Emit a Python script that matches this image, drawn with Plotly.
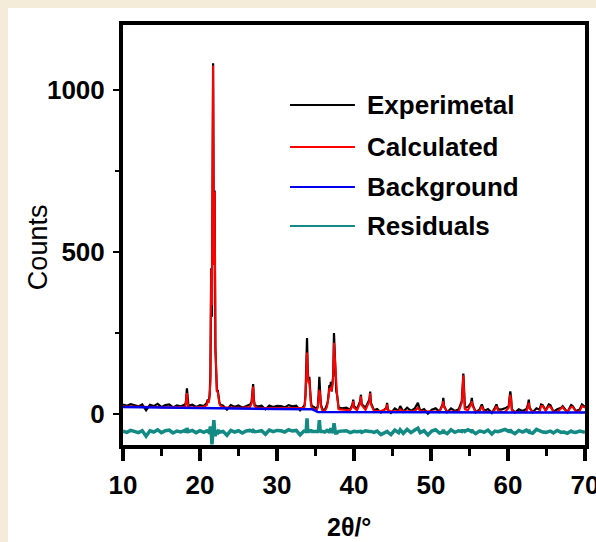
import plotly.graph_objects as go

# Powder XRD Rietveld fit: observed pattern, calculated profile, background, residuals
two_theta = [
    10.0, 10.5, 11.0, 11.5, 12.0, 12.5, 13.0, 13.5, 14.0, 14.5, 15.0, 15.5, 16.0, 16.5, 17.0, 17.5, 18.0,
    18.1, 18.2, 18.3, 18.4, 18.5,
    19.0, 19.5, 20.0, 20.5,
    20.9, 21.0, 21.15, 21.25, 21.35, 21.45, 21.55, 21.7, 21.8, 21.9, 22.0, 22.1, 22.2, 22.3, 22.4, 22.5, 22.6, 22.8,
    23.0, 23.5, 24.0, 24.5, 25.0, 25.5, 26.0, 26.5,
    26.7, 26.8, 26.9, 27.0, 27.1,
    27.5, 28.0, 28.5, 29.0, 29.5, 30.0, 30.5, 31.0, 31.5, 32.0, 32.5, 33.0, 33.5,
    33.6, 33.7, 33.8, 33.9, 34.0, 34.1, 34.2, 34.3, 34.4, 34.5,
    34.8, 35.1,
    35.3, 35.4, 35.5, 35.6, 35.7, 35.9,
    36.2, 36.5,
    36.6, 36.7, 36.8, 36.9, 37.0, 37.1, 37.2, 37.3, 37.4, 37.5, 37.6, 37.7, 37.8, 38.0,
    38.5, 39.0, 39.5,
    39.8, 39.9, 40.0,
    40.4,
    40.8, 40.9, 41.0,
    41.5,
    42.0, 42.1, 42.2,
    42.6, 43.0, 43.5,
    44.2, 44.3, 44.4,
    44.8, 45.3, 45.8,
    46.0, 46.4, 46.9, 47.4, 47.9,
    48.3, 48.6, 49.1, 49.6, 50.1, 50.6, 51.1,
    51.5, 51.6, 51.7,
    52.1, 52.6, 53.1, 53.6,
    54.0, 54.1, 54.2, 54.3, 54.4,
    54.8,
    55.2, 55.3, 55.4,
    55.8, 56.3, 56.6, 56.9,
    57.4, 57.9, 58.3, 58.5, 58.7,
    59.1, 59.6,
    60.1, 60.2, 60.3, 60.4, 60.5,
    60.9, 61.4, 61.9, 62.4,
    62.6, 62.7, 62.8,
    63.2, 63.7, 64.1,
    64.3, 64.5, 64.9, 65.3, 65.5, 65.9, 66.4,
    66.9, 67.1, 67.3, 67.7,
    68.2, 68.4, 68.8,
    69.3, 69.6, 70.0,
]

exp_counts = [
    30, 26, 31, 27, 24, 30, 12, 29, 25, 32, 22, 28, 30, 21, 27, 24, 30,
    28, 45, 80, 40, 26,
    29, 22, 28, 25,
    35, 45, 40, 60, 120, 450, 300, 1082, 500, 690, 200, 90, 70, 75, 50, 40, 30, 28,
    26, 14, 28, 23, 27, 20, 26, 30,
    38, 60, 93, 45, 28,
    24, 26, 15, 27, 22, 26, 25, 21, 28, 24, 26, 12, 25,
    30, 60, 130, 235, 130, 100, 115, 60, 40, 25,
    22, 16,
    25, 60, 115, 70, 30, 15,
    12, 30,
    40, 60, 90, 80, 100, 70, 95, 120, 250, 180, 150, 70, 60, 20,
    18, 20, 14,
    30, 45, 25,
    16,
    40, 60, 30,
    20,
    45, 70, 35,
    12, 16, 5,
    20, 35, 14,
    4, 18, 10,
    25, 8, 20, 10, 18,
    35, 10, 16, 2, 14, 18, 8,
    30, 50, 25,
    6, 18, 10, 15,
    40, 80, 125, 75, 20,
    22,
    35, 50, 30,
    6, 14, 30, 10,
    16, 4, 20, 30, 16,
    14, 18,
    25, 50, 70, 50, 15,
    5, 15, 10, 16,
    30, 45, 20,
    6, 18, 14,
    30, 28, 12, 30, 28, 8, 15,
    20, 25, 18, 6,
    28, 25, 10,
    14, 30, 22,
]

calc_counts = [
    24, 24, 23, 23, 23, 23, 22, 22, 22, 22, 21, 21, 21, 21, 21, 21, 22,
    23, 40, 65, 35, 22,
    21, 21, 21, 23,
    28, 40, 38, 55, 100, 445, 335, 1075, 460, 685, 210, 85, 68, 70, 48, 35, 27, 24,
    21, 21, 20, 20, 20, 20, 20, 22,
    33, 55, 85, 40, 24,
    19, 19, 19, 18, 18, 18, 18, 18, 18, 18, 18, 18, 19,
    25, 55, 120, 190, 125, 95, 105, 55, 30, 20,
    17, 12,
    20, 50, 75, 60, 25, 10,
    9, 22,
    35, 55, 80, 75, 85, 70, 90, 115, 220, 175, 150, 70, 60, 15,
    13, 13, 13,
    25, 40, 20,
    12,
    35, 55, 28,
    13,
    40, 65, 30,
    10, 10, 10,
    16, 30, 12,
    9, 9, 9,
    15, 9, 9, 9, 9,
    20, 9, 9, 8, 8, 8, 8,
    28, 40, 22,
    8, 8, 8, 8,
    35, 70, 120, 65, 15,
    12,
    30, 40, 25,
    8, 8, 25, 8,
    7, 7, 14, 25, 12,
    7, 7,
    20, 45, 60, 45, 12,
    7, 7, 7, 7,
    25, 35, 18,
    7, 7, 7,
    25, 25, 10, 25, 22, 8, 7,
    18, 22, 15, 7,
    22, 22, 8,
    8, 25, 20,
]

bg_two_theta = [10, 20, 30, 34.6, 35.3, 50, 70]
bg_counts = [22, 18, 16, 15, 7, 6, 5]

# residual curve is drawn shifted below the pattern
residual_offset = -58

assert len(two_theta) == len(exp_counts) == len(calc_counts)
residuals = [e - c + residual_offset for e, c in zip(exp_counts, calc_counts)]

legend_names = ["Experimetal", "Calculated", "Background", "Residuals"]
colors = ["#000000", "#ff0000", "#0000ee", "#138a84"]

x_ticks = [10, 20, 30, 40, 50, 60, 70]
y_ticks = [0, 500, 1000]

fig = go.Figure()
fig.add_trace(go.Scatter(x=two_theta, y=residuals, mode="lines",
                         line=dict(color=colors[3], width=3.5), name=legend_names[3]))
fig.add_trace(go.Scatter(x=two_theta, y=exp_counts, mode="lines",
                         line=dict(color=colors[0], width=2.2), name=legend_names[0]))
fig.add_trace(go.Scatter(x=two_theta, y=calc_counts, mode="lines",
                         line=dict(color=colors[1], width=2), name=legend_names[1]))
fig.add_trace(go.Scatter(x=bg_two_theta, y=bg_counts, mode="lines",
                         line=dict(color=colors[2], width=2.5), name=legend_names[2]))

bold_font = dict(family="Liberation Sans", size=26, color="black", weight="bold")

fig.update_xaxes(
    range=[10, 70], tickvals=x_ticks, ticktext=[str(v) for v in x_ticks],
    showline=True, linecolor="black", linewidth=4, mirror=True,
    ticks="outside", ticklen=12, tickwidth=4, tickcolor="black",
    minor=dict(dtick=5, tick0=10, ticks="outside", ticklen=7, tickwidth=3, tickcolor="black"),
    showgrid=False, zeroline=False, tickfont=bold_font, ticklabelstandoff=2,
    ticklabeloverflow="allow", automargin=False,
)
fig.update_yaxes(
    range=[-95, 1200], tickvals=y_ticks, ticktext=[str(v) for v in y_ticks],
    showline=True, linecolor="black", linewidth=4, mirror=True,
    ticks="outside", ticklen=6, tickwidth=2, tickcolor="black",
    minor=dict(dtick=250, tick0=0, ticks="outside", ticklen=4, tickwidth=2, tickcolor="black"),
    showgrid=False, zeroline=False, tickfont=bold_font, ticklabelstandoff=3,
    ticklabeloverflow="allow", automargin=False,
)

# page panel: cream surround with a white card
shapes = [dict(type="rect", xref="paper", yref="paper", x0=-0.249, x1=1.03, y0=-0.24, y1=1.0405,
               fillcolor="white", line=dict(width=0), layer="below")]
annotations = []

# legend drawn as line samples with labels
legend_rows = [0.8095, 0.7095, 0.6143, 0.5214]
for name, col, yy in zip(legend_names, colors, legend_rows):
    shapes.append(dict(type="line", xref="paper", yref="paper", x0=0.3615, x1=0.502, y0=yy, y1=yy,
                       line=dict(color=col, width=2)))
    annotations.append(dict(xref="paper", yref="paper", x=0.5238, y=yy, xanchor="left", yanchor="middle",
                            text=name, showarrow=False, font=bold_font))

annotations.append(dict(xref="paper", yref="paper", x=-0.185, y=0.47, text="Counts", textangle=-90,
                        showarrow=False, xanchor="center", yanchor="middle",
                        font=dict(family="Liberation Sans", size=27, color="black")))
annotations.append(dict(xref="paper", yref="paper", x=0.49, y=-0.195, text="2θ/°",
                        showarrow=False, xanchor="center", yanchor="middle",
                        font=dict(family="Liberation Sans", size=25, color="black", weight="bold")))

fig.update_layout(
    width=596, height=542,
    margin=dict(l=123, r=11, t=25, b=97),
    paper_bgcolor="#f4ecd8", plot_bgcolor="white",
    showlegend=False, shapes=shapes, annotations=annotations,
)

fig.write_html("out.html")
